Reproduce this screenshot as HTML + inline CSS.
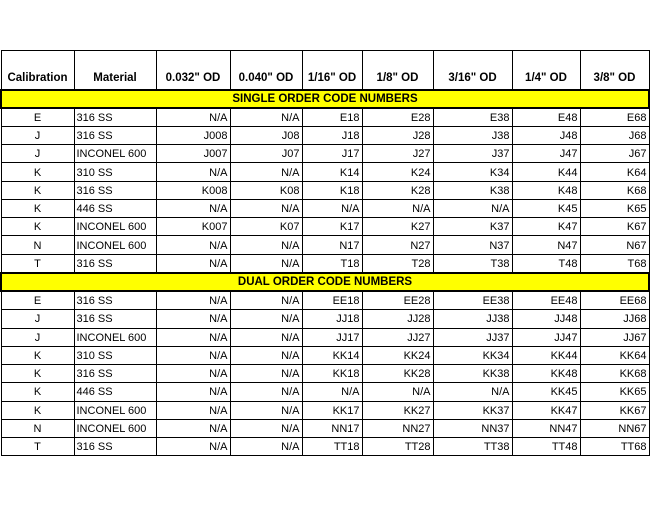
<!DOCTYPE html>
<html><head><meta charset="utf-8"><style>
body{margin:0;width:650px;height:510px;background:#fff;overflow:hidden;font-family:"Liberation Sans",Arial,sans-serif;}
table{position:absolute;left:0;top:50px;border-collapse:collapse;table-layout:fixed;font-size:11px;color:#000;}
td{border:1px solid #000;padding:1px 2px 0 2px;height:17.4px;line-height:16px;white-space:nowrap;overflow:hidden;text-align:right;box-sizing:border-box;}
tr.b td{height:18.45px}
td.c{text-align:center}
td.l{text-align:left}
tr.h td{height:39px;vertical-align:bottom;font-weight:bold;text-align:center;padding-bottom:3px;font-size:11.5px}
tr.y td{background:#ffff00;font-weight:bold;text-align:center;border:2px solid #000;height:18.5px;font-size:11.5px;padding-top:0}
</style></head><body>
<table>
<colgroup><col style="width:73px"><col style="width:82px"><col style="width:74px"><col style="width:72px"><col style="width:60px"><col style="width:71px"><col style="width:79px"><col style="width:68px"><col style="width:69px"></colgroup>
<tr class="h"><td>Calibration</td><td>Material</td><td>0.032" OD</td><td>0.040" OD</td><td>1/16" OD</td><td>1/8" OD</td><td>3/16" OD</td><td>1/4" OD</td><td>3/8" OD</td></tr>
<tr class="y"><td colspan="9">SINGLE ORDER CODE NUMBERS</td></tr>
<tr><td class="c">E</td><td class="l">316 SS</td><td>N/A</td><td>N/A</td><td>E18</td><td>E28</td><td>E38</td><td>E48</td><td>E68</td></tr>
<tr class="b"><td class="c">J</td><td class="l">316 SS</td><td>J008</td><td>J08</td><td>J18</td><td>J28</td><td>J38</td><td>J48</td><td>J68</td></tr>
<tr><td class="c">J</td><td class="l">INCONEL 600</td><td>J007</td><td>J07</td><td>J17</td><td>J27</td><td>J37</td><td>J47</td><td>J67</td></tr>
<tr class="b"><td class="c">K</td><td class="l">310 SS</td><td>N/A</td><td>N/A</td><td>K14</td><td>K24</td><td>K34</td><td>K44</td><td>K64</td></tr>
<tr><td class="c">K</td><td class="l">316 SS</td><td>K008</td><td>K08</td><td>K18</td><td>K28</td><td>K38</td><td>K48</td><td>K68</td></tr>
<tr class="b"><td class="c">K</td><td class="l">446 SS</td><td>N/A</td><td>N/A</td><td>N/A</td><td>N/A</td><td>N/A</td><td>K45</td><td>K65</td></tr>
<tr><td class="c">K</td><td class="l">INCONEL 600</td><td>K007</td><td>K07</td><td>K17</td><td>K27</td><td>K37</td><td>K47</td><td>K67</td></tr>
<tr class="b"><td class="c">N</td><td class="l">INCONEL 600</td><td>N/A</td><td>N/A</td><td>N17</td><td>N27</td><td>N37</td><td>N47</td><td>N67</td></tr>
<tr><td class="c">T</td><td class="l">316 SS</td><td>N/A</td><td>N/A</td><td>T18</td><td>T28</td><td>T38</td><td>T48</td><td>T68</td></tr>
<tr class="y"><td colspan="9">DUAL ORDER CODE NUMBERS</td></tr>
<tr><td class="c">E</td><td class="l">316 SS</td><td>N/A</td><td>N/A</td><td>EE18</td><td>EE28</td><td>EE38</td><td>EE48</td><td>EE68</td></tr>
<tr class="b"><td class="c">J</td><td class="l">316 SS</td><td>N/A</td><td>N/A</td><td>JJ18</td><td>JJ28</td><td>JJ38</td><td>JJ48</td><td>JJ68</td></tr>
<tr><td class="c">J</td><td class="l">INCONEL 600</td><td>N/A</td><td>N/A</td><td>JJ17</td><td>JJ27</td><td>JJ37</td><td>JJ47</td><td>JJ67</td></tr>
<tr class="b"><td class="c">K</td><td class="l">310 SS</td><td>N/A</td><td>N/A</td><td>KK14</td><td>KK24</td><td>KK34</td><td>KK44</td><td>KK64</td></tr>
<tr><td class="c">K</td><td class="l">316 SS</td><td>N/A</td><td>N/A</td><td>KK18</td><td>KK28</td><td>KK38</td><td>KK48</td><td>KK68</td></tr>
<tr class="b"><td class="c">K</td><td class="l">446 SS</td><td>N/A</td><td>N/A</td><td>N/A</td><td>N/A</td><td>N/A</td><td>KK45</td><td>KK65</td></tr>
<tr><td class="c">K</td><td class="l">INCONEL 600</td><td>N/A</td><td>N/A</td><td>KK17</td><td>KK27</td><td>KK37</td><td>KK47</td><td>KK67</td></tr>
<tr class="b"><td class="c">N</td><td class="l">INCONEL 600</td><td>N/A</td><td>N/A</td><td>NN17</td><td>NN27</td><td>NN37</td><td>NN47</td><td>NN67</td></tr>
<tr><td class="c">T</td><td class="l">316 SS</td><td>N/A</td><td>N/A</td><td>TT18</td><td>TT28</td><td>TT38</td><td>TT48</td><td>TT68</td></tr>
</table>
</body></html>
